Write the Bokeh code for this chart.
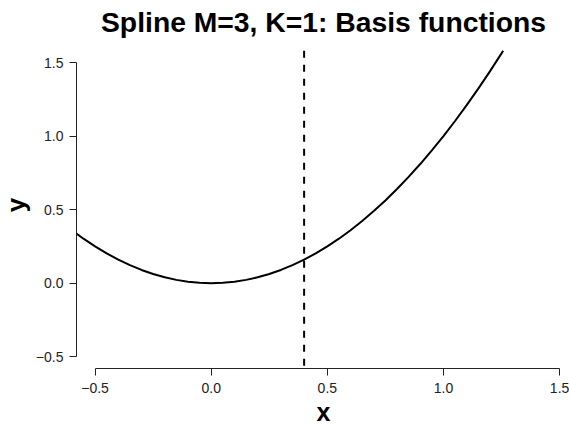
from bokeh.plotting import figure
from bokeh.embed import file_html
from bokeh.resources import INLINE
from bokeh.models import FixedTicker, CustomJSTickFormatter, Range1d, Title

# Curve values (curve leaves the plot region at the top)
x_vals = [-0.6, -0.55, -0.5, -0.45, -0.4, -0.35, -0.3, -0.25, -0.2, -0.15, -0.1, -0.05,
          0.0, 0.05, 0.1, 0.15, 0.2, 0.25, 0.3, 0.35, 0.4, 0.45, 0.5, 0.55, 0.6, 0.65,
          0.7, 0.75, 0.8, 0.85, 0.9, 0.95, 1.0, 1.05, 1.1, 1.15, 1.2, 1.25, 1.257]
y_vals = [0.36, 0.3025, 0.25, 0.2025, 0.16, 0.1225, 0.09, 0.0625, 0.04, 0.0225, 0.01, 0.0025,
          0.0, 0.0025, 0.01, 0.0225, 0.04, 0.0625, 0.09, 0.1225, 0.16, 0.2025, 0.25, 0.3025,
          0.36, 0.4225, 0.49, 0.5625, 0.64, 0.7225, 0.81, 0.9025, 1.0, 1.1025, 1.21, 1.3225,
          1.44, 1.5625, 1.58]
knot = 0.4
region_y = [-0.58, 1.58]   # plot-region limits (dashed knot line spans them)
x_ticks = [-0.5, 0.0, 0.5, 1.0, 1.5]
y_ticks = [-0.5, 0.0, 0.5, 1.0, 1.5]
title_text = "Spline M=3, K=1: Basis functions"
x_label = "x"
y_label = "y"

p = figure(width=569, height=426, output_backend="svg", toolbar_location=None,
           x_range=Range1d(-0.58, 1.547), y_range=Range1d(-0.58, 1.643),
           min_border_left=75, min_border_right=0, min_border_top=40, min_border_bottom=59,
           frame_width=494, frame_height=327)

p.line(x_vals, y_vals, line_color="black", line_width=2)
p.segment(x0=[knot], y0=[region_y[1]], x1=[knot], y1=[region_y[0]],
          line_color="black", line_width=2, line_dash="7 7")

fmt = CustomJSTickFormatter(code="return (tick < 0 ? '\\u2212' : '') + Math.abs(tick).toFixed(1);")

p.xaxis.ticker = FixedTicker(ticks=x_ticks)
p.yaxis.ticker = FixedTicker(ticks=y_ticks)
for ax in (p.xaxis, p.yaxis):
    ax.formatter = fmt
    ax.bounds = (-0.5, 1.5)
    ax.major_tick_out = 7
    ax.major_tick_in = 0
    ax.minor_tick_line_color = None
    ax.axis_line_color = "#222222"
    ax.major_tick_line_color = "#222222"
    ax.major_label_text_font = "Liberation Sans"
    ax.major_label_text_font_size = "14px"
    ax.major_label_text_color = "#222222"

p.yaxis.major_label_orientation = "horizontal"
p.xaxis.major_label_standoff = 7
p.yaxis.major_label_standoff = 6

p.xgrid.grid_line_color = None
p.ygrid.grid_line_color = None
p.outline_line_color = None

common = dict(text_font="Liberation Sans", text_font_style="bold",
              text_color="black", align="center")
p.add_layout(Title(text=title_text, text_font_size="28.3px",
                   vertical_align="bottom", standoff=7, **common), "above")
p.add_layout(Title(text=x_label, text_font_size="25px", vertical_align="bottom",
                   standoff=0, **common), "below")
p.add_layout(Title(text=y_label, text_font_size="26px", vertical_align="top",
                   standoff=0, **common), "left")

open("out.html", "w").write(file_html(p, INLINE))
